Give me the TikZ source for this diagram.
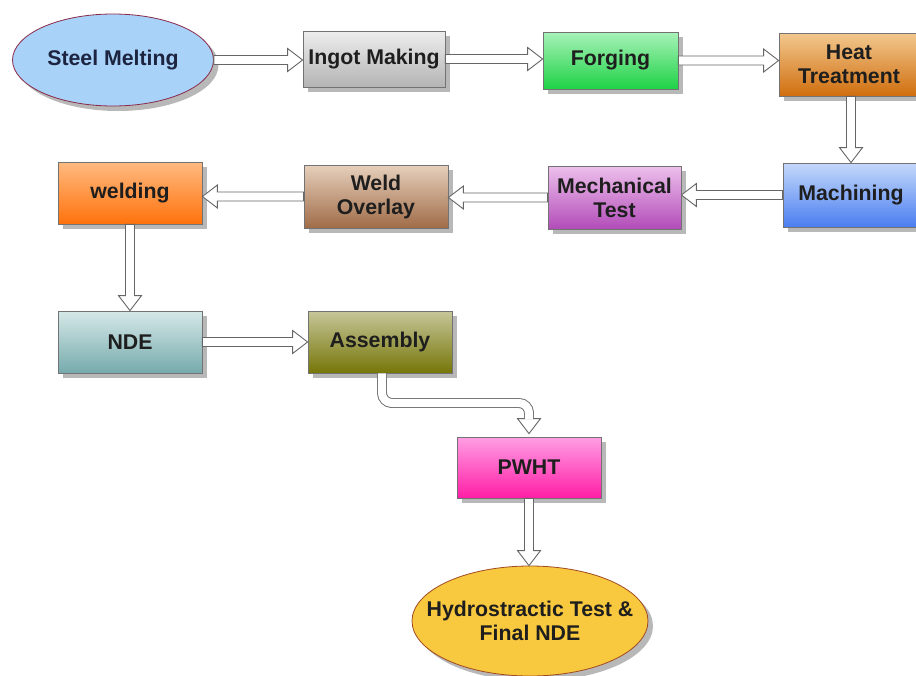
\documentclass[tikz,border=0pt]{standalone}
\usepackage{fontspec}
\setmainfont{Liberation Sans}
\usetikzlibrary{shapes.geometric,shadows,calc}
\definecolor{txt}{HTML}{1E1E1E}
\definecolor{navy}{HTML}{1C2440}
\tikzset{
  lbl/.style={text=txt, font=\bfseries\fontsize{21.3}{24}\selectfont, align=center, inner sep=0pt},
  shad/.style={drop shadow={shadow xshift=5pt, shadow yshift=-5pt, fill=black!28, opacity=1}},
  box/.style n args={4}{lbl, shad, rectangle, draw=black!55, line width=0.8pt,
    minimum width=#1, minimum height=#2, top color=#3, bottom color=#4},
  oval/.style n args={4}{lbl, shad, ellipse, draw=#4, line width=0.8pt,
    minimum width=#1, minimum height=#2, fill=#3},
  hollow/.style={draw=black!60, fill=white, line width=0.9pt, line join=miter,
    to path={let \p1=(\tikztostart), \p2=(\tikztotarget),
      \n1={atan2(\y2-\y1,\x2-\x1)}, \n2={veclen(\x2-\x1,\y2-\y1)} in
      ($(\p1)+(\n1+90:4.5)$) -- ++(\n1:\n2-15) -- ++(\n1+90:7) -- (\p2)
      -- ($(\p1)+(\n1:\n2-15)+(\n1-90:11.5)$) -- ++(\n1+90:7)
      -- ($(\p1)+(\n1-90:4.5)$) -- cycle}},
  bshaft/.style={draw=black!60, line width=0.9pt, double=white, double distance=8.1pt, rounded corners=10pt}
}
\definecolor{cSM}{HTML}{A8D2F8}\definecolor{bSM}{HTML}{8A2A4A}
\definecolor{cIa}{HTML}{EDEDED}\definecolor{cIb}{HTML}{B4B4B4}
\definecolor{cFa}{HTML}{A8F2B8}\definecolor{cFb}{HTML}{1ED246}
\definecolor{cHa}{HTML}{F2C88E}\definecolor{cHb}{HTML}{D06E0E}
\definecolor{cMa}{HTML}{C4D8FA}\definecolor{cMb}{HTML}{4A7EF0}
\definecolor{cTa}{HTML}{EDC0EC}\definecolor{cTb}{HTML}{B24CB8}
\definecolor{cOa}{HTML}{E6D0BC}\definecolor{cOb}{HTML}{A06C48}
\definecolor{cWa}{HTML}{FFBA80}\definecolor{cWb}{HTML}{FF720C}
\definecolor{cNa}{HTML}{D6E8E8}\definecolor{cNb}{HTML}{76AAAC}
\definecolor{cAa}{HTML}{C6C69A}\definecolor{cAb}{HTML}{767608}
\definecolor{cPa}{HTML}{FF9EE4}\definecolor{cPb}{HTML}{FF1EA6}
\definecolor{cHy}{HTML}{F8C83E}\definecolor{bHy}{HTML}{A04A22}
\begin{document}
\begin{tikzpicture}[x=1pt,y=1pt]
\useasboundingbox (0,0) rectangle (916,-675);
\clip (0,0) rectangle (916,-675);

\node[oval={201}{92}{cSM}{bSM}, text=navy] (sm) at (113,-60) {Steel Melting};
\node[box={142}{56}{cIa}{cIb}] (ingot) at (374,-59) {Ingot Making};
\node[box={135}{57}{cFa}{cFb}] (forging) at (610.5,-60.5) {Forging};
\node[box={140}{63}{cHa}{cHb}] (heat) at (849,-64.5) {Heat\\Treatment};
\node[box={136}{64}{cMa}{cMb}] (mach) at (851,-195) {Machining};
\node[box={133}{63}{cTa}{cTb}] (mech) at (614.5,-197.5) {Mechanical\\Test};
\node[box={144}{63}{cOa}{cOb}] (weldov) at (376,-196.5) {Weld\\Overlay};
\node[box={144}{62}{cWa}{cWb}] (welding) at (130,-193) {welding};
\node[box={144}{62}{cNa}{cNb}] (nde) at (130,-342) {NDE};
\node[box={144}{62}{cAa}{cAb}] (asm) at (380,-342) {Assembly};
\node[box={144}{61}{cPa}{cPb}] (pwht) at (529,-467.5) {PWHT};
\node[oval={236}{110}{cHy}{bHy}, inner xsep=-24pt, inner ysep=6pt] (hydro) at (530,-621) {Hydrostractic Test \&\\Final NDE};

\draw[hollow] (sm.east) to (sm.east -| ingot.west);
\draw[hollow] (ingot.east) to (ingot.east -| forging.west);
\draw[hollow] (forging.east) to (forging.east -| heat.west);
\draw[hollow] (heat.south -| mach.north) to (mach.north);
\draw[hollow] (mach.west) to (mach.west -| mech.east);
\draw[hollow] (mech.west) to (mech.west -| weldov.east);
\draw[hollow] (weldov.west) to (weldov.west -| welding.east);
\draw[hollow] (welding.south) to (nde.north);
\draw[hollow] (nde.east) to (nde.east -| asm.west);

\coordinate (b1) at ([xshift=2pt]asm.south);
\coordinate (b2) at (529,-403);
\coordinate (b3) at (529,-419);
\draw[hollow] (529,-414) to ([yshift=3pt]pwht.north);
\draw[bshaft] (b1) |- (b2) -- (b3);

\draw[hollow] (pwht.south) to (pwht.south |- hydro.north);
\end{tikzpicture}
\end{document}
